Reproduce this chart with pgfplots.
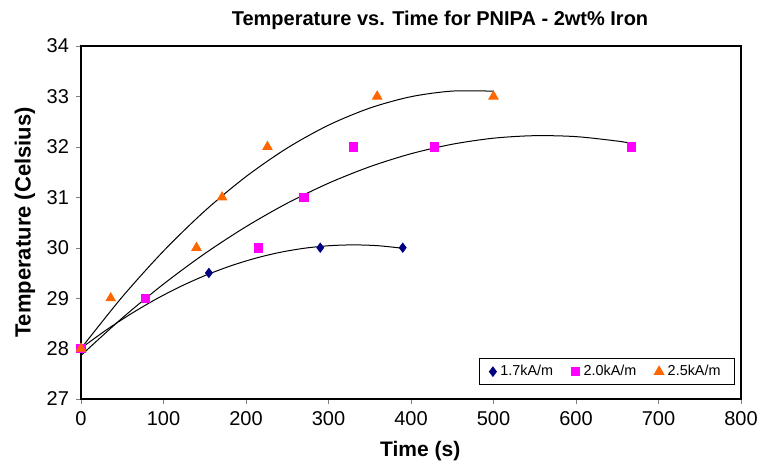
\documentclass[border=0pt]{standalone}
\usepackage{pgfplots}
\pgfplotsset{compat=1.18}
\usepackage{fontspec}
\setmainfont{Liberation Sans}
\definecolor{dnavy}{HTML}{000080}
\definecolor{dmag}{HTML}{FF00FF}
\definecolor{dorange}{HTML}{FF6600}
\begin{document}
\begin{tikzpicture}
\begin{axis}[name=ax,
  width=330pt,height=176.5pt,scale only axis,
  xmin=0,xmax=800,ymin=27,ymax=34,
  xtick={0,100,...,800},ytick={27,28,...,34},
  tick align=outside,major tick length=2.5pt,
  xtick pos=bottom,ytick pos=left,
  /pgf/number format/assume math mode=true,
  tick label style={font=\fontsize{10}{11}\selectfont},
  title={Temperature vs. Time for PNIPA - 2wt\% Iron},
  title style={font=\fontsize{10}{11}\selectfont\bfseries,
    at={(0.544,1)},anchor=center,yshift=7pt},
  xlabel={\bfseries Time (s)},
  ylabel={\bfseries Temperature (Celsius)},
  label style={font=\fontsize{10.5}{11}\selectfont},
  xlabel style={at={(0.514,0)},anchor=center,yshift=-26pt},
  ylabel style={at={(0,0.5)},anchor=center,rotate=0,yshift=28pt,
    font=\fontsize{11}{12}\selectfont},
  axis line style={black,line width=0.6pt},
  legend columns=3,
  legend style={at={(0.991,0.04)},anchor=south east,
    font=\fontsize{7.2}{8}\selectfont,draw=black,line width=0.5pt,
    inner xsep=5pt,inner ysep=1pt,
    /tikz/every even column/.append style={column sep=7pt}},
  legend image code/.code={\draw[mark repeat=2,mark phase=2] plot coordinates {(0cm,0cm)(0.12cm,0cm)(0.24cm,0cm)};},
]
% trend lines (2nd order)
\addplot[black,line width=0.5pt,smooth,forget plot] coordinates {
  (0,28.006)(30,28.362)(60,28.683)(90,28.972)(120,29.226)(150,29.446)
  (180,29.632)(210,29.785)(240,29.904)(270,29.988)(300,30.039)
  (330,30.056)(360,30.040)(390,29.989)};
\addplot[black,line width=0.5pt,smooth,forget plot] coordinates {
  (0,27.864)(50,28.606)(100,29.279)(150,29.883)(200,30.417)(250,30.883)
  (300,31.279)(350,31.606)(400,31.864)(450,32.052)(500,32.172)
  (550,32.222)(600,32.203)(650,32.115)(667,32.069)};
\addplot[black,line width=0.5pt,smooth,forget plot] coordinates {
  (0,28.002)(50,29.025)(100,29.934)(150,30.729)(200,31.410)(250,31.977)
  (300,32.430)(350,32.769)(400,32.995)(450,33.106)(500,33.104)};
% measured points
\addplot[only marks,mark=diamond*,mark size=2.3pt,color=dnavy] coordinates {
  (0,28)(155,29.5)(290,30)(390,30)};
\addplot[only marks,mark=square*,mark size=2.1pt,color=dmag] coordinates {
  (0,28)(78,29)(215,30)(270,31)(330,32)(428,32)(667,32)};
\addplot[only marks,mark=triangle*,mark size=2.7pt,color=dorange] coordinates {
  (0,28)(36,29)(140,30)(171,31)(226,32)(359,33)(500,33)};
\legend{1.7kA/m,2.0kA/m,2.5kA/m}
\end{axis}
\pgfresetboundingbox
\path (ax.south west) ++(-40.5pt,-33pt) coordinate (bl);
\path (ax.north east) ++(15pt,23pt) coordinate (tr);
\path (bl) rectangle (tr);
\end{tikzpicture}
\end{document}
